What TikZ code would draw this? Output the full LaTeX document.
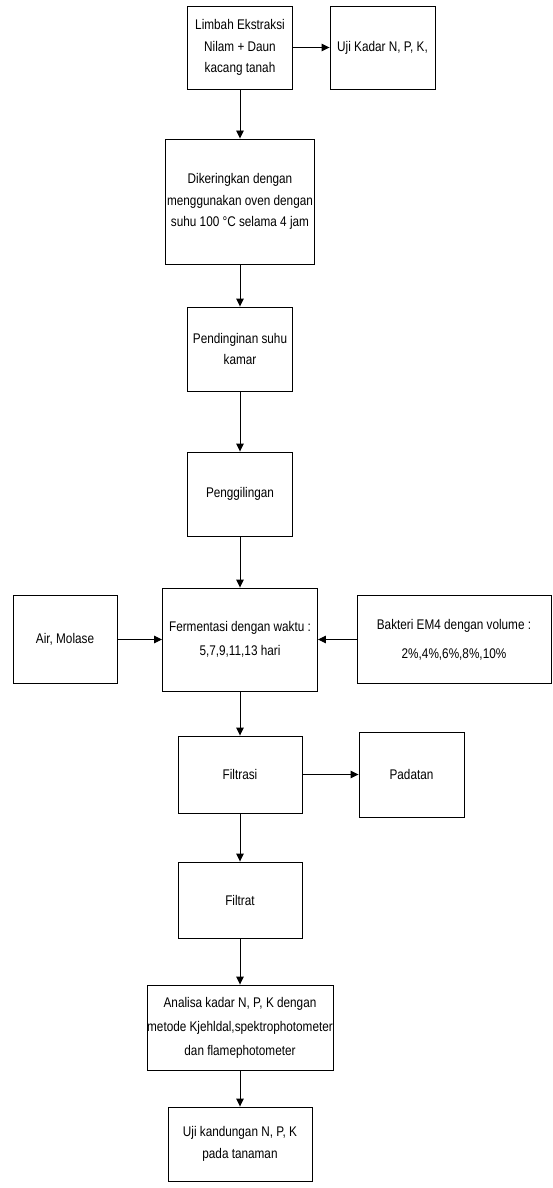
\documentclass[tikz,border=0pt]{standalone}
\usepackage{fontspec}
\setmainfont[FakeStretch=0.84]{Liberation Sans}
\usetikzlibrary{arrows.meta}
\begin{document}
\begin{tikzpicture}[x=1pt,y=-1pt,
  box/.style={draw,line width=0.9pt,inner sep=0pt,align=center,
    font=\fontsize{14}{21.5}\selectfont},
  arr/.style={line width=0.9pt,-{Triangle[length=8pt,width=7.5pt]}}]
\useasboundingbox (0,0) rectangle (552,1188);
\node[box,minimum width=105,minimum height=83] (limbah) at (240,47.5) {Limbah Ekstraksi\\Nilam + Daun\\kacang tanah};
\node[box,minimum width=105,minimum height=83] (ujikadar) at (382.5,47.5) {Uji Kadar N, P, K,};
\node[box,minimum width=149,minimum height=125] (kering) at (240,201.5) {Dikeringkan dengan\\menggunakan oven dengan\\suhu 100 °C selama 4 jam};
\node[box,minimum width=105,minimum height=84] (dingin) at (240,349) {Pendinginan suhu\\kamar};
\node[box,minimum width=105,minimum height=84] (giling) at (240,494) {Penggilingan};
\node[box,minimum width=104,minimum height=88] (air) at (65,639.5) {Air, Molase};
\node[box,minimum width=155,minimum height=103,font=\fontsize{14}{24}\selectfont] (ferm) at (240,639.5) {Fermentasi dengan waktu :\\5,7,9,11,13 hari};
\node[box,minimum width=194,minimum height=88,font=\fontsize{14}{29}\selectfont] (bakteri) at (454,639.5) {Bakteri EM4 dengan volume :\\2\%,4\%,6\%,8\%,10\%};
\node[box,minimum width=124,minimum height=77] (filtrasi) at (240,774.5) {Filtrasi};
\node[box,minimum width=105,minimum height=85] (padatan) at (411.5,774.5) {Padatan};
\node[box,minimum width=124,minimum height=76] (filtrat) at (240,900) {Filtrat};
\node[box,minimum width=186,minimum height=85,font=\fontsize{14}{24}\selectfont] (analisa) at (240,1027.5) {Analisa kadar N, P, K dengan\\metode Kjehldal,spektrophotometer\\dan flamephotometer};
\node[box,minimum width=144,minimum height=74] (ujikand) at (240,1144) {Uji kandungan N, P, K\\pada tanaman};
\draw[arr] (limbah) -- (ujikadar);
\draw[arr] (limbah) -- (kering);
\draw[arr] (kering) -- (dingin);
\draw[arr] (dingin) -- (giling);
\draw[arr] (giling) -- (ferm);
\draw[arr] (air) -- (ferm);
\draw[arr] (bakteri) -- (ferm);
\draw[arr] (ferm) -- (filtrasi);
\draw[arr] (filtrasi) -- (padatan);
\draw[arr] (filtrasi) -- (filtrat);
\draw[arr] (filtrat) -- (analisa);
\draw[arr] (analisa) -- (ujikand);
\end{tikzpicture}
\end{document}
